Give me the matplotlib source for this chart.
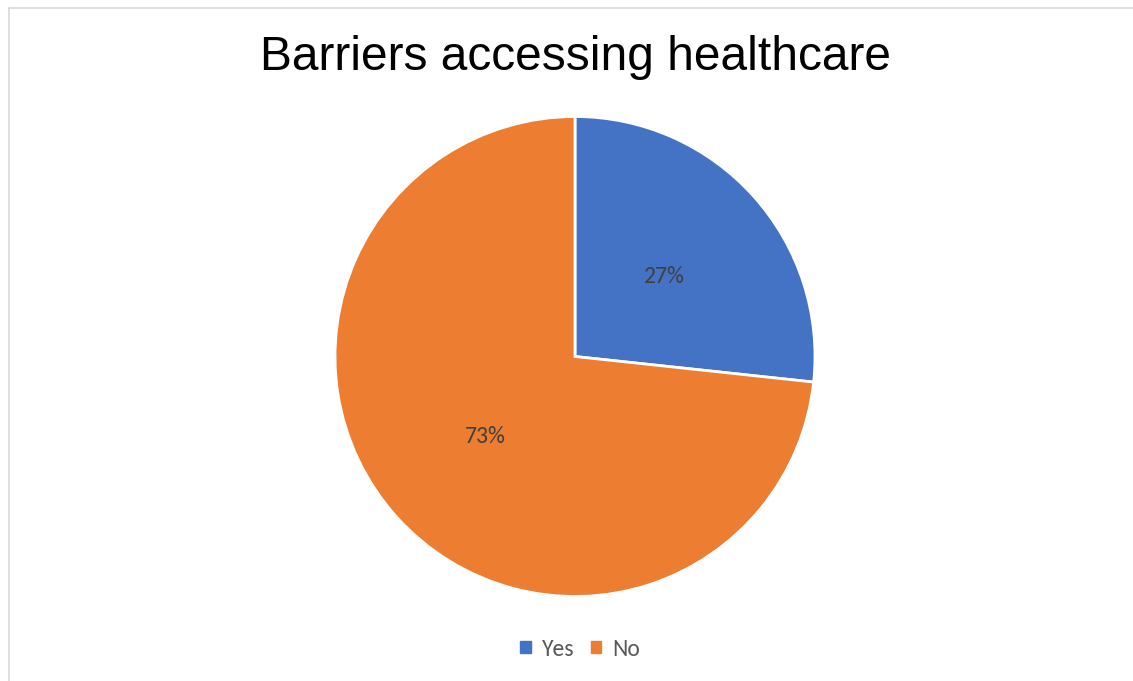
import matplotlib
matplotlib.use("Agg")
import matplotlib.pyplot as plt
from matplotlib.patches import Rectangle
from matplotlib.lines import Line2D

categories = ["Yes", "No"]
values = [26.7, 73.3]
colors = ["#4472C4", "#ED7D31"]
title = "Barriers accessing healthcare"

W, H = 1133, 681
fig = plt.figure(figsize=(W / 100, H / 100), dpi=100)
fig.patch.set_facecolor("white")

# Border (left and top visible)
fig.add_artist(Line2D([8.5 / W, 8.5 / W], [0, 1 - 7.5 / H], transform=fig.transFigure,
                      color="#D9D9D9", lw=1.2))
fig.add_artist(Line2D([8.5 / W, 1], [1 - 7.5 / H, 1 - 7.5 / H], transform=fig.transFigure,
                      color="#D9D9D9", lw=1.2))

# Pie axes: center (575, 356.5), radius 240
cx, cy, r = 575, 356.5, 240
ax = fig.add_axes([(cx - r) / W, (H - cy - r) / H, 2 * r / W, 2 * r / H])
wedges, texts, autotexts = ax.pie(
    values, colors=colors, startangle=90, counterclock=False,
    autopct=lambda p: f"{p:.0f}%", pctdistance=0.5,
    wedgeprops=dict(edgecolor="white", linewidth=2),
    textprops=dict(color="#404040", fontsize=17, family=["Carlito", "Lato", "DejaVu Sans"]),
)
ax.set_xlim(-1, 1)
ax.set_ylim(-1, 1)
ax.set_aspect("equal")
ax.axis("off")

fig.text(575 / W, 1 - 58 / H, title, ha="center", va="center",
         fontsize=34.5, family=["Liberation Sans", "DejaVu Sans"], color="black")

handles = [Rectangle((0, 0), 1, 1, color=c) for c in colors]
leg = fig.legend(handles, categories, loc="center", bbox_to_anchor=(580 / W, 1 - 649 / H),
                 ncol=2, frameon=False, handlelength=0.45, handleheight=0.45,
                 handletextpad=0.45, columnspacing=0.7,
                 prop=dict(family=["Carlito", "Lato", "DejaVu Sans"], size=17))
for t in leg.get_texts():
    t.set_color("#595959")

fig.savefig("out.png", dpi=100, facecolor="white")
